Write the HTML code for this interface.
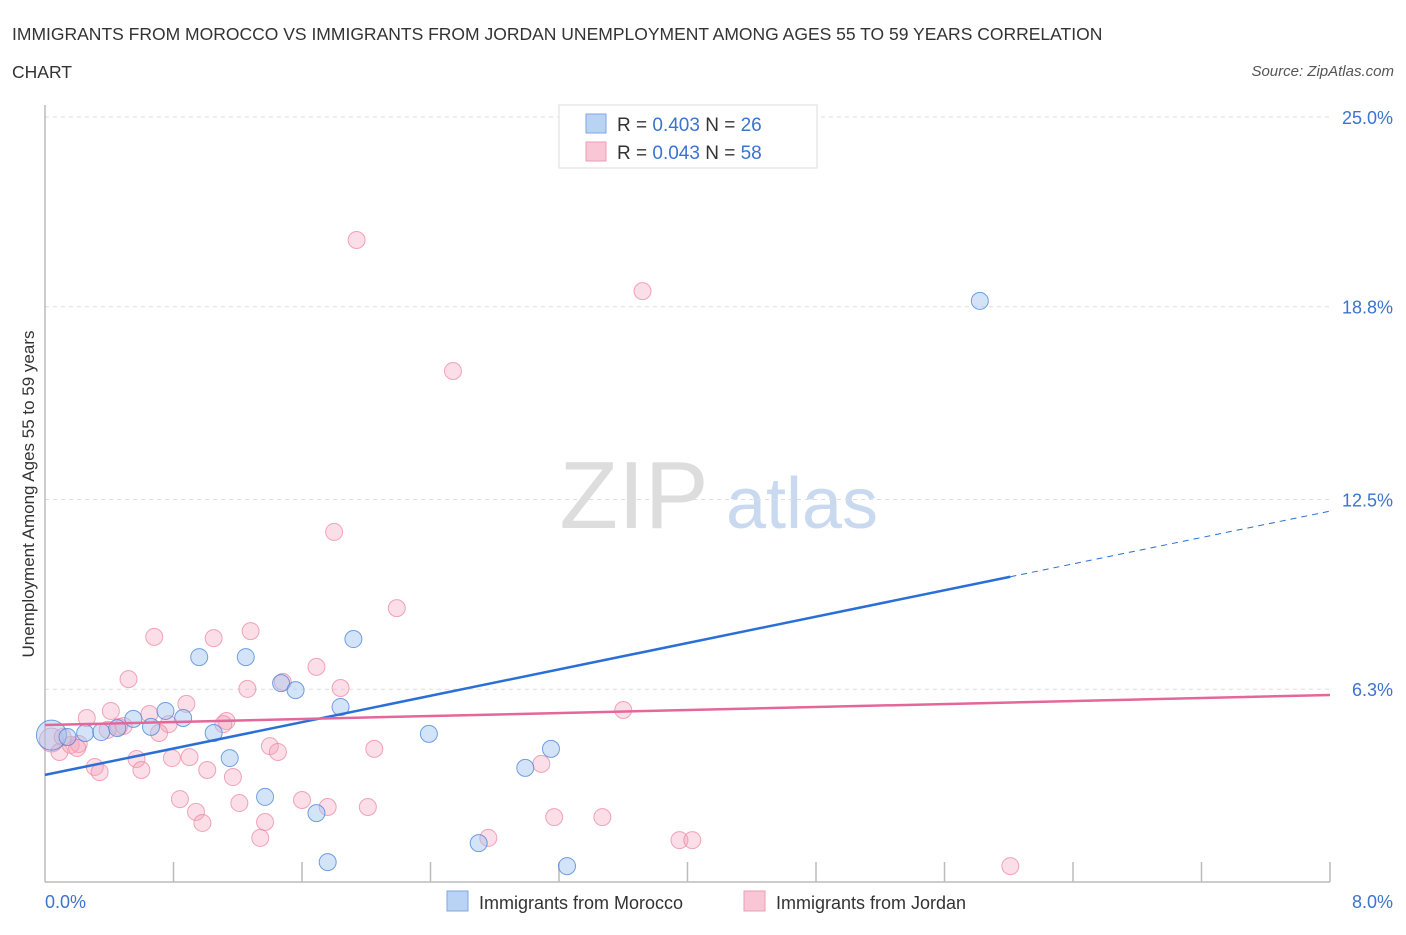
<!DOCTYPE html>
<html><head><meta charset="utf-8"><style>
body{margin:0;background:#fff;font-family:"Liberation Sans",sans-serif;}
svg text{font-family:"Liberation Sans",sans-serif;}
</style></head><body>
<svg id="chart" width="1406" height="930" xmlns="http://www.w3.org/2000/svg">
<text x="12" y="40" font-size="17.5" fill="#333">IMMIGRANTS FROM MOROCCO VS IMMIGRANTS FROM JORDAN UNEMPLOYMENT AMONG AGES 55 TO 59 YEARS CORRELATION</text>
<text x="12" y="78" font-size="17.5" fill="#333">CHART</text>
<text x="1394" y="76" font-size="15" fill="#555" font-style="italic" text-anchor="end">Source: ZipAtlas.com</text>
<g>
<text x="634" y="528" font-size="96" font-family="Liberation Serif" fill="#ddd" text-anchor="middle">ZIP</text>
<text x="802" y="528" font-size="72" fill="#c9d9ef" text-anchor="middle">atlas</text>
</g>
<g id="grid"></g>
<g id="axes"></g>
<g id="pts"></g>
<g id="lines"></g>
<text transform="translate(34,494) rotate(-90)" font-size="17" fill="#333" text-anchor="middle">Unemployment Among Ages 55 to 59 years</text>
<text x="45" y="908" font-size="18" fill="#3b73d0">0.0%</text>
<text x="1393" y="908" font-size="18" fill="#3b73d0" text-anchor="end">8.0%</text>
<g>
<rect x="559" y="105" width="258" height="63" fill="#fff" stroke="#ddd"/>
<rect x="586" y="114" width="20" height="19" fill="#b9d3f5" stroke="#7fa7e0"/>
<rect x="586" y="142" width="20" height="19" fill="#f9c6d5" stroke="#ec9db4"/>
<text x="617" y="131" font-size="19" fill="#333">R = <tspan fill="#3b73d0">0.403</tspan>   N = <tspan fill="#3b73d0">26</tspan></text>
<text x="617" y="159" font-size="19" fill="#333">R = <tspan fill="#3b73d0">0.043</tspan>   N = <tspan fill="#3b73d0">58</tspan></text>
</g>
<g>
<rect x="447" y="891" width="21" height="20" fill="#b9d3f5" stroke="#7fa7e0"/>
<text x="479" y="909" font-size="18" fill="#333">Immigrants from Morocco</text>
<rect x="744" y="891" width="21" height="20" fill="#f9c6d5" stroke="#ec9db4"/>
<text x="776" y="909" font-size="18" fill="#333">Immigrants from Jordan</text>
</g>
</svg>
<script>
const yTicks=[25.0,18.8,12.5,6.3];
const yTickLabels=["25.0%","18.8%","12.5%","6.3%"];
const moroccoX=[.04,.14,.25,.35,.45,.55,.66,.75,.86,.96,1.05,1.15,1.25,1.37,1.47,1.56,1.69,1.76,1.84,1.92,2.39,2.70,2.99,3.15,3.25,5.82];
const moroccoY=[4.80,4.74,4.87,4.90,5.03,5.33,5.07,5.59,5.36,7.35,4.87,4.05,7.35,2.78,6.50,6.27,2.25,0.65,5.72,7.94,4.84,1.27,3.73,4.35,0.52,18.99];
const jordanX=[.04,1.94,3.72,2.54,1.80,2.19,.68,1.05,1.28,.52,1.26,1.48,1.69,1.84,.88,.41,.26,.65,.77,.46,1.13,1.11,.71,1.40,1.45,2.05,3.60,3.09,.31,.34,.57,.60,.79,.90,1.01,1.17,.84,.94,.98,1.21,1.37,1.34,1.60,1.76,2.01,2.76,3.17,3.47,3.95,4.03,6.01,.09,.16,.21,.11,.39,.49,.20];
const jordanY=[4.64,20.98,19.31,16.70,11.44,8.95,8.01,7.97,8.20,6.63,6.31,6.54,7.03,6.34,5.82,5.59,5.36,5.49,5.16,5.07,5.26,5.16,4.87,4.44,4.25,4.35,5.62,3.86,3.76,3.59,4.02,3.66,4.05,4.08,3.66,3.43,2.71,2.29,1.93,2.58,1.96,1.44,2.68,2.45,2.45,1.44,2.12,2.12,1.37,1.37,0.52,4.25,4.48,4.51,4.74,4.97,5.10,4.38];
const moroccoTrend=[3.5,12.12];
const jordanTrend=[5.13,6.11];
const trendSolidEnd=6.01;
const NS="http://www.w3.org/2000/svg";
const X0=45,X1=1330,Y0=882,YT=117;
const sx=v=>X0+(v/8)*(X1-X0);
const sy=v=>Y0-(v/25)*(Y0-YT);
function mk(tag,attrs,parent){const e=document.createElementNS(NS,tag);for(const k in attrs)e.setAttribute(k,attrs[k]);parent.appendChild(e);return e;}
const grid=document.getElementById('grid');
yTicks.forEach((t,i)=>{
  const l=mk('line',{x1:X0,x2:X1,y1:sy(t),y2:sy(t),stroke:'#ddd','stroke-dasharray':'4,4'},grid);
  
  
  const tx=mk('text',{x:1393,y:sy(t)+7,'font-size':18,fill:'#3b73d0','text-anchor':'end'},grid);
  tx.textContent=yTickLabels[i];
  
  
});
const ax=document.getElementById('axes');
const xa=mk('line',{x1:X0,x2:X1,y1:Y0,y2:Y0,stroke:'#bbb','stroke-width':1.5},ax);


const ya=mk('line',{x1:X0,x2:X0,y1:105,y2:Y0,stroke:'#bbb','stroke-width':1.5},ax);


for(let k=1;k<=10;k++){
  const v=k*0.8;
  const tk=mk('line',{x1:sx(v),x2:sx(v),y1:Y0,y2:Y0-20,stroke:'#bbb','stroke-width':1.5},ax);
  
  
}
const pts=document.getElementById('pts');
jordanX.forEach((x,i)=>{
  const c=mk('circle',{cx:sx(x),cy:sy(jordanY[i]),r:i===0?12:8.5,fill:'rgba(244,160,185,0.35)',stroke:'rgba(236,130,160,0.7)','stroke-width':1},pts);
  
  
});
moroccoX.forEach((x,i)=>{
  const c=mk('circle',{cx:sx(x),cy:sy(moroccoY[i]),r:i===0?15:8.5,fill:'rgba(160,195,240,0.45)',stroke:'rgba(70,130,215,0.75)','stroke-width':1},pts);
  
  
});
const ln=document.getElementById('lines');
const mAt=v=>moroccoTrend[0]+(moroccoTrend[1]-moroccoTrend[0])*v/8;
const b1=mk('line',{x1:sx(0),y1:sy(moroccoTrend[0]),x2:sx(trendSolidEnd),y2:sy(mAt(trendSolidEnd)),stroke:'#2a6fd6','stroke-width':2.5},ln);


const b2=mk('line',{x1:sx(trendSolidEnd),y1:sy(mAt(trendSolidEnd)),x2:sx(8),y2:sy(moroccoTrend[1]),stroke:'#2a6fd6','stroke-width':1,'stroke-dasharray':'6,5'},ln);


const p1=mk('line',{x1:sx(0),y1:sy(jordanTrend[0]),x2:sx(8),y2:sy(jordanTrend[1]),stroke:'#e4679a','stroke-width':2.5},ln);


</script>
</body></html>
